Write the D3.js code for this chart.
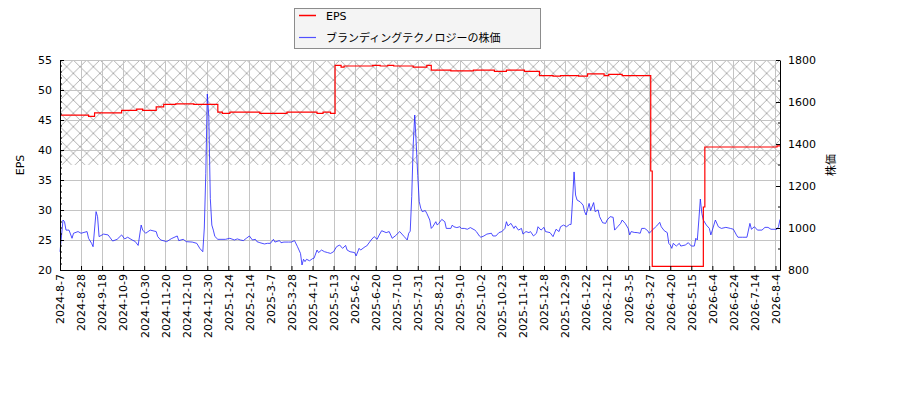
<!DOCTYPE html>
<html>
<head>
<meta charset="utf-8">
<script src="https://cdn.jsdelivr.net/npm/d3@7"></script>
<style>
  body { margin: 0; background: #fff; }
  text { font-family: "DejaVu Sans", "Noto Sans CJK JP", sans-serif; }
</style>
</head>
<body>
<div id="chart"></div>
<script>
// x tick labels, one every 14 trading days
var xLabels = ["2024-8-7","2024-8-28","2024-9-18","2024-10-9","2024-10-30","2024-11-20","2024-12-10",
  "2024-12-30","2025-1-24","2025-2-14","2025-3-7","2025-3-28","2025-4-17","2025-5-13","2025-6-2",
  "2025-6-20","2025-7-10","2025-7-31","2025-8-21","2025-9-10","2025-10-2","2025-10-23","2025-11-14",
  "2025-12-8","2025-12-29","2026-1-22","2026-2-12","2026-3-5","2026-3-27","2026-4-20","2026-5-15",
  "2026-6-4","2026-6-24","2026-7-14","2026-8-4"];
var tickStep = 14;
var lastDay = 479;

// EPS: [trading day, value] where the value changes
var epsSteps = [[0,45.8],[19,45.6],[23,46.2],[41,46.6],[51,46.8],[55,46.6],[64,47.2],[69,47.6],[77,47.7],
  [89,47.6],[105,46.3],[108,46.1],[113,46.3],[133,46.1],[151,46.3],[171,46.1],[175,46.3],[180,46.1],
  [183,54.1],[187,53.8],[189,54.0],[208,54.1],[213,54.0],[218,54.1],[222,54.0],[235,53.8],[244,54.1],
  [247,53.3],[260,53.2],[275,53.3],[289,53.1],[297,53.3],[309,53.1],[319,52.4],[328,52.3],[333,52.4],
  [345,52.3],[351,52.7],[362,52.4],[365,52.6],[374,52.4],[393,36.5],[394,20.6],[428,30.5],[429,40.5],
  [477,40.7],[479,40.7]];

// stock price: [trading day, price]
var pricePts = [[0,887],[2,1038],[3,1030],[4,990],[6,990],[8,951],[9,975],[12,983],[14,975],[18,983],
  [19,951],[21,927],[22,911],[24,1078],[25,1054],[26,959],[29,971],[32,967],[35,938],[38,946],[41,967],
  [43,948],[45,956],[48,943],[50,936],[52,917],[54,1014],[55,990],[57,975],[60,990],[64,983],[65,959],
  [67,943],[71,935],[74,949],[78,962],[79,940],[82,946],[84,935],[88,933],[91,927],[93,903],[95,887],
  [96,1000],[97,1260],[98,1638],[99,1530],[100,1140],[101,1014],[102,990],[103,960],[105,946],[110,946],
  [113,951],[116,943],[118,948],[120,943],[122,940],[124,951],[126,962],[128,943],[130,946],[131,935],
  [133,930],[136,924],[138,927],[140,927],[142,946],[143,933],[146,940],[147,930],[149,933],[152,933],
  [154,933],[156,940],[158,911],[160,879],[161,824],[162,851],[163,840],[164,851],[166,844],[168,854],
  [169,856],[171,895],[172,883],[174,895],[176,887],[178,883],[180,879],[182,887],[184,911],[186,919],
  [188,903],[190,917],[191,895],[193,887],[196,883],[197,867],[199,903],[200,895],[203,911],[204,914],
  [207,943],[209,959],[211,946],[212,962],[214,987],[217,978],[219,983],[221,951],[223,962],[226,983],
  [228,967],[229,959],[231,943],[232,975],[233,985],[234,1150],[235,1400],[236,1538],[237,1400],
  [238,1250],[239,1125],[240,1094],[241,1078],[243,1083],[244,1070],[246,1038],[247,998],[248,1006],
  [250,1030],[251,1014],[252,1022],[254,1041],[256,1030],[257,998],[260,998],[261,1014],[262,1006],
  [264,1002],[266,1006],[267,998],[269,998],[271,994],[273,1002],[276,990],[277,983],[279,962],
  [280,956],[282,962],[284,971],[287,975],[288,962],[290,962],[292,978],[294,983],[296,998],[297,1030],
  [298,1010],[300,1022],[302,998],[303,1010],[305,990],[307,998],[308,971],[310,983],[312,978],
  [313,983],[315,962],[317,975],[318,1006],[320,990],[322,1003],[323,983],[326,978],[328,959],
  [330,994],[332,983],[333,1006],[335,1014],[337,1006],[339,1017],[340,1017],[341,1133],[342,1267],
  [343,1157],[344,1133],[346,1125],[348,1109],[349,1078],[350,1062],[352,1117],[353,1083],[355,1121],
  [356,1078],[358,1086],[359,1054],[361,1025],[363,1022],[364,1038],[366,1054],[368,1051],[369,990],
  [371,1006],[373,1022],[374,1038],[376,1022],[378,998],[379,967],[380,983],[382,979],[384,978],
  [386,975],[387,998],[389,998],[391,987],[392,975],[394,990],[396,1003],[397,1010],[399,1027],
  [400,1006],[402,987],[404,978],[405,927],[406,919],[407,903],[408,927],[410,914],[412,927],[413,914],
  [416,919],[418,930],[420,914],[422,914],[423,951],[424,943],[425,1038],[426,1138],[427,1070],
  [428,1038],[430,1014],[432,998],[433,967],[434,990],[436,1038],[438,1006],[440,998],[443,1003],
  [446,998],[448,994],[450,967],[451,956],[454,956],[457,956],[459,1022],[460,994],[462,1006],
  [464,990],[467,990],[469,1003],[471,1003],[473,994],[477,994],[478,1006],[479,1041]];

var epsTicks = [20,25,30,35,40,45,50,55];
var priceTicks = [800,1000,1200,1400,1600,1800];
var hatchFrom = 1300; // shaded band on price axis

var width = 900, height = 400;
var plotL = 60, plotR = 780, plotT = 60, plotB = 270;

var svg = d3.select('#chart').append('svg')
    .attr('width', width)
    .attr('height', height);

var x = d3.scaleLinear().domain([0, lastDay]).range([plotL, plotR]);
var yL = d3.scaleLinear().domain([20, 55]).range([plotB, plotT]);
var yR = d3.scaleLinear().domain([800, 1800]).range([plotB, plotT]);

// hatch pattern
var defs = svg.append('defs');
var pat = defs.append('pattern')
    .attr('id', 'hatch')
    .attr('patternUnits', 'userSpaceOnUse')
    .attr('width', 13.333).attr('height', 13.333)
    .attr('x', 0).attr('y', 400);
pat.append('path')
    .attr('d', 'M0,0L13.333,13.333M0,13.333L13.333,0M-2,2L2,-2M11.333,15.333L15.333,11.333')
    .attr('stroke', '#a8a8a8')
    .attr('stroke-width', 0.9)
    .attr('fill', 'none');

svg.append('rect')
    .attr('x', plotL).attr('y', yR(1800))
    .attr('width', plotR - plotL).attr('height', yR(hatchFrom) - yR(1800))
    .attr('fill', 'url(#hatch)');

var tickIdx = xLabels.map(function (d, i) { return i * tickStep; });

// grid
var grid = svg.append('g').attr('stroke', '#c4c4c4').attr('stroke-width', 1);
grid.selectAll('.vg').data(tickIdx).enter().append('line')
    .attr('x1', function (d) { return Math.round(x(d)) + 0.5; })
    .attr('x2', function (d) { return Math.round(x(d)) + 0.5; })
    .attr('y1', plotT).attr('y2', plotB);
grid.selectAll('.hg').data(epsTicks).enter().append('line')
    .attr('x1', plotL).attr('x2', plotR)
    .attr('y1', function (d) { return Math.round(yL(d)) + 0.5; })
    .attr('y2', function (d) { return Math.round(yL(d)) + 0.5; });

// lines
var priceLine = d3.line()
    .x(function (d) { return x(d[0]); })
    .y(function (d) { return yR(d[1]); });
svg.append('path')
    .datum(pricePts)
    .attr('d', priceLine)
    .attr('fill', 'none')
    .attr('stroke', '#2020ff')
    .attr('stroke-width', 0.8);

var epsLine = d3.line()
    .x(function (d) { return x(d[0]); })
    .y(function (d) { return yL(d[1]); })
    .curve(d3.curveStepAfter);
svg.append('path')
    .datum(epsSteps)
    .attr('d', epsLine)
    .attr('fill', 'none')
    .attr('stroke', '#ff0000')
    .attr('stroke-width', 1.2);

// axes (ticks pointing inward)
var axL = d3.axisLeft(yL).tickValues(epsTicks).tickSizeInner(-4).tickSizeOuter(0).tickPadding(8);
var gL = svg.append('g').attr('transform', 'translate(' + plotL + ',0)').call(axL);
var minorL = d3.range(20, 56, 1).filter(function (d) { return d % 5 !== 0; });
svg.append('g').selectAll('line').data(minorL).enter().append('line')
    .attr('x1', plotL).attr('x2', plotL + 2)
    .attr('y1', function (d) { return yL(d); }).attr('y2', function (d) { return yL(d); })
    .attr('stroke', '#000');

var axR = d3.axisRight(yR).tickValues(priceTicks).tickFormat(d3.format('d'))
    .tickSizeInner(-4).tickSizeOuter(0).tickPadding(8);
var gR = svg.append('g').attr('transform', 'translate(' + plotR + ',0)').call(axR);
var minorR = [900, 1100, 1300, 1500, 1700];
svg.append('g').selectAll('line').data(minorR).enter().append('line')
    .attr('x1', plotR - 2).attr('x2', plotR)
    .attr('y1', function (d) { return yR(d); }).attr('y2', function (d) { return yR(d); })
    .attr('stroke', '#000');

var axB = d3.axisBottom(x).tickValues(tickIdx)
    .tickFormat(function (d, i) { return xLabels[i]; })
    .tickSizeInner(-4).tickSizeOuter(0);
var gB = svg.append('g').attr('transform', 'translate(0,' + plotB + ')').call(axB);
gB.selectAll('text')
    .attr('transform', 'rotate(-90)')
    .attr('text-anchor', 'end')
    .attr('x', -4).attr('y', 0).attr('dy', '0.35em');

[gL, gR, gB].forEach(function (g) {
    g.selectAll('text').style('font-size', '11px').attr('fill', '#000');
    g.select('.domain').attr('stroke', '#000');
});

// axis titles
svg.append('text')
    .attr('transform', 'translate(24,165) rotate(-90)')
    .attr('text-anchor', 'middle')
    .style('font-size', '11px')
    .text('EPS');
svg.append('text')
    .attr('transform', 'translate(835,165) rotate(-90)')
    .attr('text-anchor', 'middle')
    .style('font-size', '11px')
    .text('株価');

// legend
var lg = svg.append('g');
lg.append('rect')
    .attr('x', 294.5).attr('y', 8.5).attr('width', 246).attr('height', 40)
    .attr('fill', '#f4f4f4').attr('stroke', '#8c8c8c');
var items = [['EPS', '#ff0000', 1.5], ['ブランディングテクノロジーの株価', '#5050ff', 1.2]];
lg.selectAll('.it').data(items).enter().append('g')
    .each(function (d, i) {
        var g = d3.select(this);
        var yy = 15.5 + i * 22;
        g.append('line').attr('x1', 299).attr('x2', 316).attr('y1', yy).attr('y2', yy)
            .attr('stroke', d[1]).attr('stroke-width', d[2]);
        g.append('text').attr('x', 326).attr('y', yy + 4)
            .style('font-size', '11px').text(d[0]);
    });
</script>
</body>
</html>
